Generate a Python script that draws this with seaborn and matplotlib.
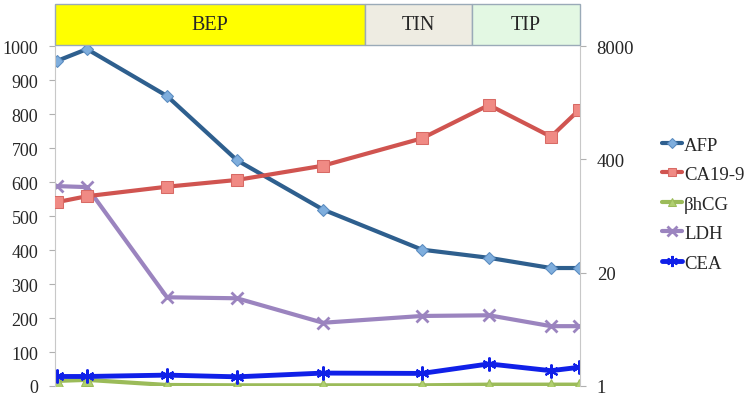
import numpy as np
import pandas as pd
import matplotlib.pyplot as plt
import matplotlib.ticker as mticker
from matplotlib.patches import Rectangle
import seaborn as sns

# time points (weeks) and marker values
weeks = [0, 3, 11, 18, 26.6, 36.5, 43.2, 49.4, 52.2]
afp = [956, 991, 853, 664, 519, 401, 377, 347, 347]
ca199 = [129, 151, 194, 232, 338, 697, 1682, 728, 1473]
bhcg = [15, 18, 3, 2, 2, 2, 4, 4, 4]
ldh = [588, 585, 261, 258, 186, 206, 208, 176, 176]
cea = [28, 28, 32, 27, 38, 37, 65, 45, 55]

phases = ["BEP", "TIN", "TIP"]
phase_edges = [-0.2, 30.8, 41.5, 52.3]
phase_colors = ["#FFFF00", "#EEECE2", "#E3F8E3"]

sns.set_style("white")
plt.rcParams['font.family'] = ['Liberation Serif', 'DejaVu Serif']

fig = plt.figure(figsize=(7.5, 4.06), dpi=100)
ax = fig.add_axes([0.0733, 0.0468, 0.7, 0.8374])
ax2 = ax.twinx()

sns.lineplot(x=weeks, y=afp, ax=ax, color="#2E5F8E", lw=3, marker="D", ms=6,
             markerfacecolor="#7FAEDD", markeredgecolor="#5A8BC0", label="AFP")
sns.lineplot(x=weeks, y=ca199, ax=ax2, color="#D05450", lw=3, marker="s", ms=8,
             markerfacecolor="#F08A84", markeredgecolor="#D86A65", label="CA19-9")
sns.lineplot(x=weeks, y=bhcg, ax=ax, color="#9BBB59", lw=3, marker="^", ms=8,
             markerfacecolor="#B0CF70", markeredgecolor="#9BBB59", label="βhCG")
sns.lineplot(x=weeks, y=ldh, ax=ax, color="#9B84BF", lw=3, marker="x", ms=9,
             markeredgewidth=2, markeredgecolor="#9B84BF", label="LDH")
sns.lineplot(x=weeks, y=cea, ax=ax, color="#1020E8", lw=3.5, marker=(6, 2, 0), ms=10,
             markeredgewidth=1.5, markeredgecolor="#1020E8", label="CEA")

ax.set_xlim(phase_edges[0], phase_edges[-1])
ax.set_ylim(0, 1000)
ax.set_yticks(range(0, 1001, 100))
ax.set_xticks([])
ax.set_xlabel("")

ax2.set_yscale("log")
ax2.set_ylim(1, 8000)
ax2.set_yticks([1, 20, 400, 8000])
ax2.yaxis.set_major_formatter(mticker.FuncFormatter(lambda v, p: f"{v:g}"))
ax2.yaxis.set_minor_locator(mticker.NullLocator())

for a in (ax, ax2):
    for s in ("top", "bottom", "left", "right"):
        a.spines[s].set_visible(False)
ax.spines["left"].set_visible(True)
ax.spines["left"].set_color("#C8C8C8")
ax2.spines["right"].set_visible(True)
ax2.spines["right"].set_color("#C8C8C8")
ax.tick_params(axis="y", length=4, color="#B0B0B0", labelsize=13, pad=8, left=True)
ax2.tick_params(axis="y", length=4, color="#B0B0B0", labelsize=13.5, pad=8, right=True)

# treatment phase bands above the plot
trans = ax.get_xaxis_transform()
for name, x0, x1, c in zip(phases, phase_edges[:-1], phase_edges[1:], phase_colors):
    ax.add_patch(Rectangle((x0, 1.003), x1 - x0, 0.12, transform=trans, facecolor=c,
                           edgecolor="#9AAAB8", lw=1, clip_on=False))
    ax.text((x0 + x1) / 2, 1.063, name, transform=trans, ha="center", va="center",
            fontsize=14.5)

h1, l1 = ax.get_legend_handles_labels()
h2, l2 = ax2.get_legend_handles_labels()
for a in (ax, ax2):
    if a.get_legend():
        a.get_legend().remove()
order = ["AFP", "CA19-9", "βhCG", "LDH", "CEA"]
hd = dict(zip(l1 + l2, h1 + h2))
fig.legend([hd[k] for k in order], order, loc="upper left", bbox_to_anchor=(0.872, 0.68),
           frameon=False, fontsize=13.5, handlelength=1.1, handletextpad=0.1,
           labelspacing=0.66, markerscale=0.8, borderaxespad=0)

plt.savefig("out.png", dpi=100)
